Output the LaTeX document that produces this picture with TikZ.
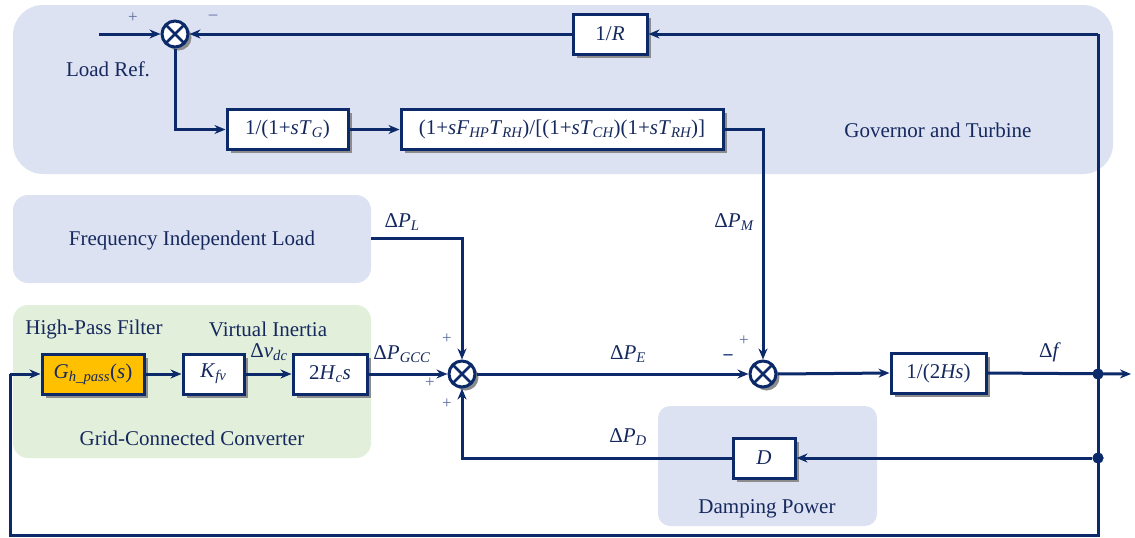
\documentclass[tikz,border=0pt]{standalone}
\usepackage{fontspec}
\setmainfont{Liberation Serif}
\usetikzlibrary{arrows.meta,shadows}
\definecolor{navy}{HTML}{0C2A6A}
\definecolor{txt}{HTML}{16295E}
\definecolor{regb}{HTML}{DCE2F2}
\definecolor{regg}{HTML}{E2EFDA}
\definecolor{orng}{HTML}{FFC000}
\definecolor{sgn}{HTML}{5A6A9C}
\newcommand{\lsub}[1]{\textsubscript{\itshape #1}}
\tikzset{
  sig/.style={draw=navy, line width=3pt, line join=miter},
  arr/.style={sig, -{Stealth[length=11pt,width=9pt]}},
  shad/.style={drop shadow={shadow xshift=3.5pt, shadow yshift=-3.5pt, fill=black!45, opacity=1}},
  blk/.style={draw=navy, line width=3pt, fill=white, minimum height=40pt, inner sep=0pt,
    text=txt, font=\fontsize{21}{24}\selectfont, shad},
  sumj/.style={circle, draw=navy, line width=3pt, fill=white, minimum size=26pt, inner sep=0pt, shad,
    path picture={\draw[navy, line width=2.8pt]
      (path picture bounding box.north west) -- (path picture bounding box.south east)
      (path picture bounding box.north east) -- (path picture bounding box.south west);}},
  lbl/.style={text=txt, font=\fontsize{21}{24}\selectfont, inner sep=0pt},
  sign/.style={text=sgn, font=\fontsize{17}{19}\selectfont, inner sep=0pt},
  dot/.style={circle, fill=navy, inner sep=0pt, minimum size=11pt}
}
\begin{document}
\begin{tikzpicture}[x=1pt,y=-1pt]
\useasboundingbox (0,0) rectangle (1135,538);
% regions
\fill[regb, rounded corners=30pt] (13,5) rectangle (1113,174);
\fill[regb, rounded corners=15pt] (13,195) rectangle (371,283);
\fill[regg, rounded corners=15pt] (13,305) rectangle (371,458);
\fill[regb, rounded corners=12pt] (658,406) rectangle (877,526);
% region titles
\node[lbl] (tgov) at (938,130) {Governor and Turbine};
\node[lbl] (tfil) at (192,240) {Frequency Independent Load};
\node[lbl] (thpf) at (94,329) {High-Pass Filter};
\node[lbl] (tvi) at (268,329) {Virtual Inertia};
\node[lbl] (tgcc) at (192,438) {Grid-Connected Converter};
\node[lbl] (tdp) at (767,509) {Damping Power};
% blocks
\node[blk, minimum width=74pt] (R) at (610,34) {1/\textit{R}};
\node[blk, minimum width=121pt] (TG) at (287.5,129.5) {1/(1+\textit{sT}\lsub{G})};
\node[blk, minimum width=322pt] (TU) at (562,129.5) {(1+\textit{sF}\lsub{HP}\textit{T}\lsub{RH})/[(1+\textit{sT}\lsub{CH})(1+\textit{sT}\lsub{RH})]};
\node[blk, minimum width=102pt, fill=orng] (G) at (93,374) {\textit{G}\lsub{h\_pass}(\textit{s})};
\node[blk, minimum width=61pt] (K) at (213.5,374) {\textit{K}\lsub{fv}};
\node[blk, minimum width=74pt] (HC) at (330,374) {2\textit{H}\lsub{c}\textit{s}};
\node[blk, minimum width=95pt] (H) at (938.5,373) {1/(2\textit{Hs})};
\node[blk, minimum width=62pt] (D) at (764,458) {\textit{D}};
% summing junctions
\node[sumj] (s1) at (175,34) {};
\node[sumj] (s2) at (462,374) {};
\node[sumj] (s3) at (763,374) {};
% coordinates
\coordinate (lrin) at (99,34);
\coordinate (ctr) at (1098,34);
\node[dot] (df) at (1098,374) {};
\node[dot] (dd) at (1098,458) {};
\coordinate (out) at (1131,374);
\coordinate (cbr) at (1098,535);
\coordinate (cbl) at (10,535);
\coordinate (cml) at (10,374);
\coordinate (cs1) at (175,129.5);
\coordinate (ctu) at (763,129.5);
\coordinate (cl1) at (371,238);
\coordinate (cl2) at (462,238);
\coordinate (cd) at (462,458);
% connectors
\draw[arr] (lrin) -- (s1.west);
\draw[arr] (ctr) -- (R.east);
\draw[arr] (R.west) -- (s1.east);
\draw[arr] (s1.south) -- (cs1) -- (TG.west);
\draw[arr] (TG.east) -- (TU.west);
\draw[arr] (TU.east) -- (ctu) -- (s3.north);
\draw[arr] (cl1) -- (cl2) -- (s2.north);
\draw[arr] (G.east) -- (K.west);
\draw[arr] (K.east) -- (HC.west);
\draw[arr] (HC.east) -- (s2.west);
\draw[arr] (s2.east) -- (s3.west);
\draw[arr] (s3.east) -- (H.west);
\draw[arr] (H.east) -- (out);
\draw[sig] (ctr) -- (cbr) -- (cbl) -- (cml);
\draw[arr] (cml) -- (G.west);
\draw[arr] (dd) -- (D.east);
\draw[arr] (D.west) -- (cd) -- (s2.south);
\node[dot] at (df) {};
\node[dot] at (dd) {};
% labels
\node[sign] (p1) at (133,18) {+};
\node[sign] (m1) at (213,17) {--};
\node[lbl] (lr) at (108,69) {Load Ref.};
\node[lbl] (lPL) at (402,222) {Δ\textit{P}\lsub{L}};
\node[lbl] (lPM) at (734,222) {Δ\textit{P}\lsub{M}};
\node[lbl] (lPE) at (628,354) {Δ\textit{P}\lsub{E}};
\node[lbl] (lPD) at (628,437) {Δ\textit{P}\lsub{D}};
\node[lbl] (lPG) at (402,354) {Δ\textit{P}\lsub{GCC}};
\node[lbl] (lvdc) at (269,352) {Δ\textit{v}\lsub{dc}};
\node[lbl] (lf) at (1050,352) {Δ\textit{f}};
\node[sign] (p2) at (447,339) {+};
\node[sign] (p3) at (430,383) {+};
\node[sign] (p4) at (447,404) {+};
\node[sign] (p5) at (744,341) {+};
\node[sign, text=navy, font=\fontsize{18}{20}\selectfont\bfseries] (m3) at (728,357) {--};
\end{tikzpicture}
\end{document}
